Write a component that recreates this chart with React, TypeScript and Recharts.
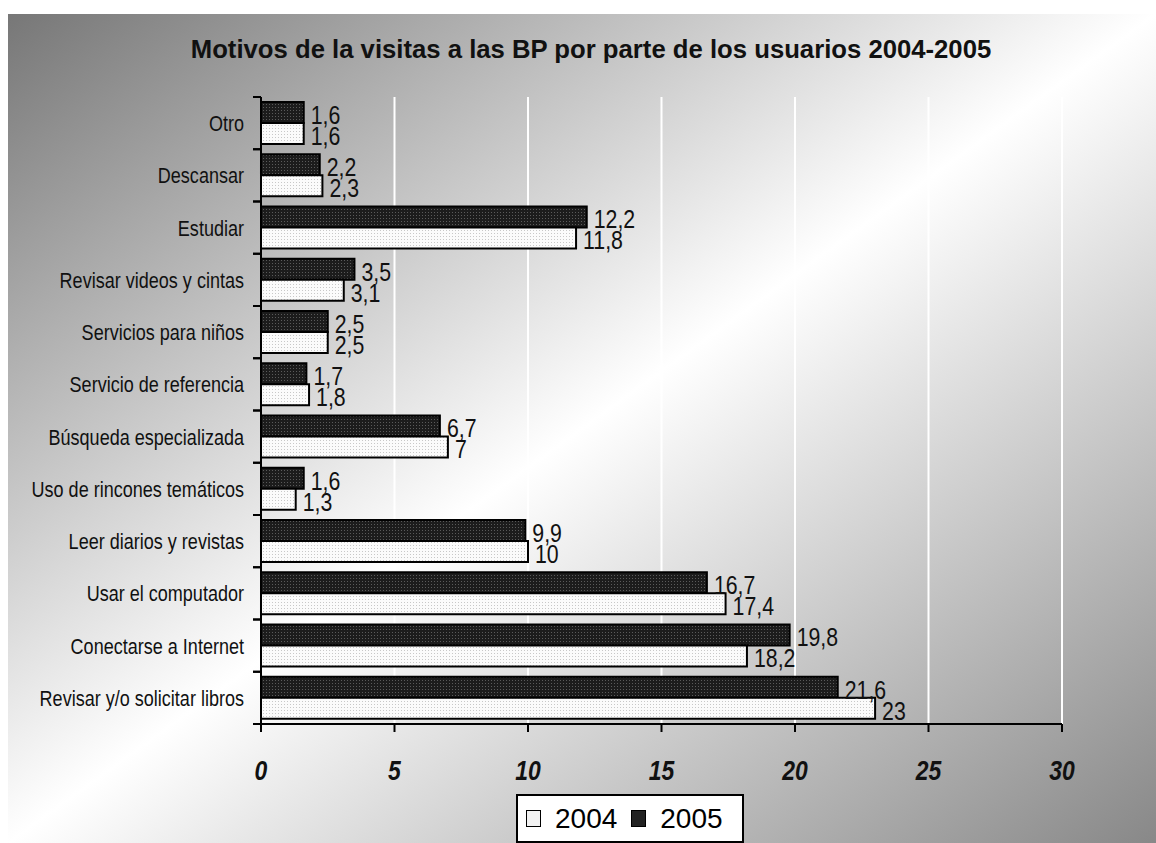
import React from 'react';
import { BarChart, Bar, XAxis, YAxis, CartesianGrid, LabelList, Legend } from 'recharts';

const categories = [
  'Otro',
  'Descansar',
  'Estudiar',
  'Revisar videos y cintas',
  'Servicios para niños',
  'Servicio de referencia',
  'Búsqueda especializada',
  'Uso de rincones temáticos',
  'Leer diarios y revistas',
  'Usar el computador',
  'Conectarse a Internet',
  'Revisar y/o solicitar libros',
];
const values2004 = [1.6, 2.3, 11.8, 3.1, 2.5, 1.8, 7, 1.3, 10, 17.4, 18.2, 23];
const values2005 = [1.6, 2.2, 12.2, 3.5, 2.5, 1.7, 6.7, 1.6, 9.9, 16.7, 19.8, 21.6];
const xTicks = [0, 5, 10, 15, 20, 25, 30];

const data = categories.map((name, i) => ({ name, y2004: values2004[i], y2005: values2005[i] }));

const ARIAL = "'Liberation Sans', Arial, sans-serif";
const NARROW = 0.82; // no Arial Narrow installed, squeeze Arial instead
const BAND = 627 / categories.length;

const fmt = (v: any) => String(v).replace('.', ',');

// text squeezed horizontally around its anchor point
const Narrow = ({ x, y, children, ...rest }: any) => (
  <g transform={`translate(${x},${y}) scale(${NARROW},1)`}>
    <text x={0} y={0} fontFamily={ARIAL} {...rest}>
      {children}
    </text>
  </g>
);

const CategoryTick = (props: any) => {
  const { x, y, payload } = props;
  return (
    <g>
      <line x1={x - 8} x2={x} y1={y - BAND / 2} y2={y - BAND / 2} stroke="#000" strokeWidth={2} />
      <line x1={x - 8} x2={x} y1={y + BAND / 2} y2={y + BAND / 2} stroke="#000" strokeWidth={2} />
      <Narrow x={x - 17} y={y} dy="0.36em" textAnchor="end" fontSize={22} fill="#111">
        {payload.value}
      </Narrow>
    </g>
  );
};

const ValueTick = (props: any) => {
  const { x, y, payload } = props;
  return (
    <Narrow x={x} y={y + 24} textAnchor="middle" fontSize={28} fontStyle="italic" fontWeight="bold" fill="#111">
      {payload.value}
    </Narrow>
  );
};

const BarValue = (props: any) => {
  const { x, y, width, height, value } = props;
  return (
    <Narrow x={x + width + 7} y={y + height / 2 + 2} dy="0.36em" fontSize={26} fill="#111">
      {fmt(value)}
    </Narrow>
  );
};

const LegendBox = () => (
  <div
    style={{
      boxSizing: 'border-box',
      width: 228,
      height: 49,
      background: '#fff',
      border: '2px solid #000',
      display: 'flex',
      alignItems: 'center',
      paddingLeft: 8,
      fontFamily: ARIAL,
      fontSize: 28,
      color: '#000',
    }}
  >
    <span style={{ width: 13, height: 15, border: '1px solid #000', background: '#f2f2f2', marginRight: 14 }} />
    <span>2004</span>
    <span style={{ width: 13, height: 15, border: '1px solid #000', background: '#222', marginLeft: 14, marginRight: 14 }} />
    <span>2005</span>
  </div>
);

export default function App() {
  return (
    <div
      style={{
        position: 'absolute',
        left: 8,
        top: 14,
        width: 1148,
        height: 829,
        background: 'linear-gradient(to bottom right, #777 0%, #fff 50%, #888 100%)',
      }}
    >
      <div
        style={{
          position: 'absolute',
          left: 0,
          width: 1166,
          top: 22,
          textAlign: 'center',
          fontFamily: ARIAL,
          fontWeight: 'bold',
          fontSize: 25.7,
          lineHeight: '26px',
          color: '#111',
        }}
      >
        Motivos de la visitas a las BP por parte de los usuarios 2004-2005
      </div>
      <BarChart
        width={1148}
        height={829}
        data={data}
        layout="vertical"
        barSize={21}
        barGap={0}
        margin={{ top: 83, right: 94, left: 0, bottom: 0 }}
      >
        <defs>
          <pattern id="darkFill" width="3" height="3" patternUnits="userSpaceOnUse">
            <rect width="3" height="3" fill="#1c1c1c" />
            <rect width="1" height="1" fill="#5a5a5a" />
          </pattern>
          <pattern id="lightFill" width="3" height="3" patternUnits="userSpaceOnUse">
            <rect width="3" height="3" fill="#fbfbfb" />
            <rect width="1" height="1" fill="#c8c8c8" />
          </pattern>
        </defs>
        <CartesianGrid horizontal={false} stroke="#fff" strokeWidth={2} />
        <XAxis
          type="number"
          domain={[0, 30]}
          ticks={xTicks}
          interval={0}
          height={70}
          axisLine={{ stroke: '#000', strokeWidth: 2 }}
          tickLine={{ stroke: '#000', strokeWidth: 2 }}
          tickSize={8}
          tickMargin={24}
          tick={<ValueTick />}
        />
        <XAxis
          xAxisId="top"
          orientation="top"
          type="number"
          domain={[0, 30]}
          height={0}
          tick={false}
          tickLine={false}
          axisLine={{ stroke: '#000', strokeWidth: 2 }}
        />
        <YAxis
          type="category"
          dataKey="name"
          width={253}
          interval={0}
          tickLine={false}
          tickSize={0}
          tickMargin={0}
          axisLine={{ stroke: '#000', strokeWidth: 2 }}
          tick={<CategoryTick />}
        />
        <YAxis
          yAxisId="right"
          orientation="right"
          type="category"
          dataKey="name"
          width={0}
          tick={false}
          tickLine={false}
          axisLine={{ stroke: '#000', strokeWidth: 2 }}
        />
        <Legend
          verticalAlign="bottom"
          content={<LegendBox />}
          wrapperStyle={{ left: 508, width: 228, bottom: 0 }}
        />
        <Bar dataKey="y2005" name="2005" fill="url(#darkFill)" stroke="#000" strokeWidth={2} isAnimationActive={false}>
          <LabelList dataKey="y2005" content={<BarValue />} />
        </Bar>
        <Bar dataKey="y2004" name="2004" fill="url(#lightFill)" stroke="#000" strokeWidth={2} isAnimationActive={false}>
          <LabelList dataKey="y2004" content={<BarValue />} />
        </Bar>
      </BarChart>
    </div>
  );
}
